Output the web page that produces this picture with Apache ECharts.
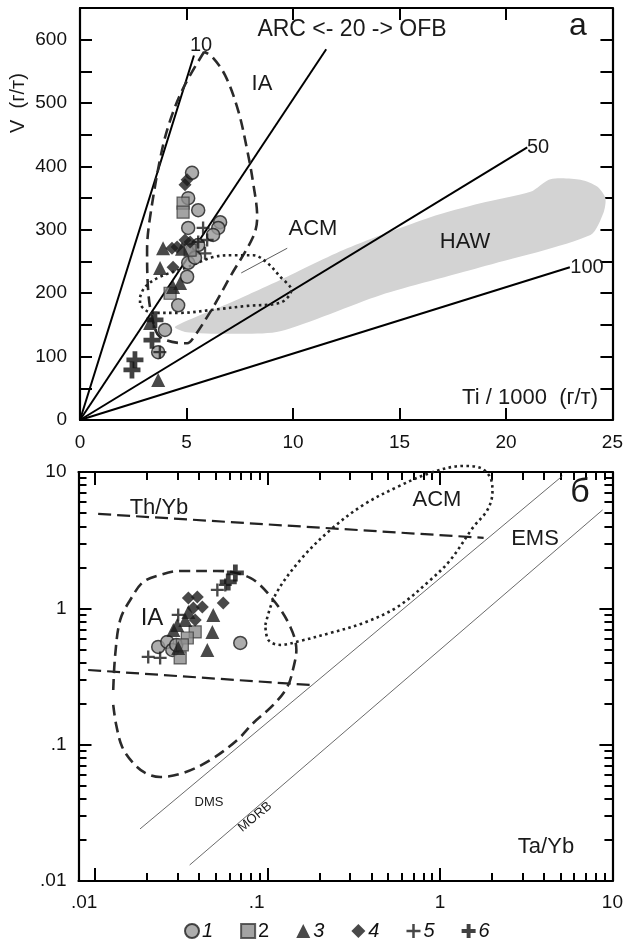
<!DOCTYPE html>
<html><head><meta charset="utf-8">
<script src="https://cdn.jsdelivr.net/npm/echarts@6/dist/echarts.min.js"></script>
<style>html,body{margin:0;padding:0;background:#fff}#c{width:626px;height:943px}</style>
</head><body><div id="c"></div>
<script>
// ===== Panel a : Ti/1000 vs V =====
const ratioLabels = ['10', '20', '50', '100'];
const ratioEndTi = [5.35, 11.56, 21.0, 23.0];
const ratioEndV = [575, 585, 430, 241];
const acmLeaderTi = [7.57, 9.73];
const acmLeaderV = [232, 271];
const hawTi = [4.46, 7.05, 9.40, 12.55, 16.45, 18.80, 21.15, 22.09, 23.50, 24.30, 24.67, 24.58, 23.97, 18.80, 14.10, 9.40, 7.05, 4.93];
const hawV  = [147, 185, 221, 271, 320, 342, 360, 380, 379, 368, 350, 327, 292, 241, 197, 140, 136, 139];
const iaTopTi = [5.83, 4.93, 4.32, 3.85, 3.29, 3.15, 3.20, 3.38, 3.76, 5.03, 5.31, 6.25, 7.05, 8.13, 8.32, 8.13, 7.85, 7.42, 6.81, 6.20];
const iaTopV  = [581, 529, 481, 426, 320, 268, 205, 163, 131, 121, 129, 178, 226, 289, 320, 374, 426, 489, 544, 573];
const acmTopTi = [2.82, 3.05, 3.76, 5.03, 6.25, 7.19, 8.13, 8.79, 9.40, 9.92, 9.40, 7.85, 6.25, 4.70, 3.43, 3.05, 2.82];
const acmTopV  = [194, 210, 226, 241, 257, 260, 260, 248, 226, 205, 185, 180, 174, 169, 169, 174, 185];
const a1Ti = [5.26, 5.08, 5.55, 6.58, 6.49, 6.25, 5.08, 5.26, 5.08, 5.03, 4.61, 3.99, 3.67, 5.40, 5.55];
const a1V  = [390, 350, 331, 312, 303, 292, 303, 268, 248, 226, 181, 142, 107, 256, 276];
const a2Ti = [4.84, 4.84, 4.23, 5.17];
const a2V  = [342, 328, 200, 268];
const a3Ti = [3.90, 4.79, 3.76, 3.29, 3.67, 4.70, 4.37];
const a3V  = [271, 270, 240, 153, 63, 216, 210];
const a4Ti = [4.93, 5.03, 4.93, 4.32, 4.37, 4.56, 5.17];
const a4V  = [371, 379, 284, 271, 241, 273, 281];
const a5Ti = [5.78, 5.87, 5.55, 5.97, 3.75];
const a5V  = [303, 263, 281, 284, 107];
const a6Ti = [3.52, 3.38, 2.58, 2.44];
const a6V  = [158, 126, 95, 79];

// ===== Panel б : Ta/Yb vs Th/Yb (log-log) =====
const logMajors = [0.01, 0.1, 1, 10];
const logMajorText = ['.01', '.1', '1', '10'];
const logMinors = [0.02, 0.03, 0.04, 0.05, 0.06, 0.07, 0.08, 0.09, 0.2, 0.3, 0.4, 0.5, 0.6, 0.7, 0.8, 0.9, 2, 3, 4, 5, 6, 7, 8, 9];
const dmsTa = [0.0182, 5.13],  dmsTh = [0.0241, 9.36];
const morbTa = [0.0353, 8.77], morbTh = [0.0131, 5.27];
const thybUpTa = [0.0104, 1.79], thybUpTh = [4.93, 3.29];
const thybLoTa = [0.0091, 0.177], thybLoTh = [0.353, 0.274];
const iaBotTa = [0.01272, 0.01306, 0.01396, 0.01596, 0.0190, 0.02384, 0.03113, 0.0511, 0.0793, 0.1079, 0.1355, 0.1468, 0.1410, 0.1301, 0.1079, 0.0826, 0.0667, 0.0465, 0.0324, 0.02384, 0.0195, 0.0166, 0.01434, 0.01324, 0.01272];
const iaBotTh = [0.252, 0.455, 0.822, 1.152, 1.562, 1.758, 1.881, 1.881, 1.671, 1.152, 0.730, 0.495, 0.365, 0.265, 0.1956, 0.1443, 0.1083, 0.0772, 0.0620, 0.0579, 0.0620, 0.0734, 0.0962, 0.1395, 0.1956];
const acmBotTa = [0.0970, 0.1109, 0.1548, 0.2312, 0.3592, 0.566, 0.880, 1.367, 1.716, 1.961, 2.014, 1.884, 1.563, 1.149, 0.880, 0.566, 0.3592, 0.2312, 0.1548, 0.1185, 0.1010];
const acmBotTh = [0.755, 1.254, 2.265, 3.760, 5.737, 7.775, 9.85, 11.08, 10.72, 9.05, 7.14, 5.27, 3.956, 2.265, 1.616, 1.024, 0.781, 0.660, 0.577, 0.539, 0.586];
const b1Ta = [0.0232, 0.0262, 0.0280, 0.0295, 0.0694];
const b1Th = [0.521, 0.567, 0.495, 0.539, 0.557];
const b2Ta = [0.0380, 0.0342, 0.0311, 0.0320];
const b2Th = [0.671, 0.606, 0.433, 0.539];
const b3Ta = [0.0347, 0.0484, 0.0478, 0.0447, 0.0299, 0.0303, 0.0284, 0.0333];
const b3Th = [0.941, 0.895, 0.671, 0.495, 0.755, 0.512, 0.694, 0.822];
const b4Ta = [0.0347, 0.0391, 0.0418, 0.0371, 0.0553, 0.0380];
const b4Th = [1.192, 1.212, 1.024, 1.007, 1.095, 0.822];
const b5Ta = [0.0203, 0.0238, 0.0303, 0.0511, 0.0568];
const b5Th = [0.440, 0.433, 0.895, 1.365, 1.485];
const b6Ta = [0.0650, 0.0591];
const b6Th = [1.818, 1.562];

const legendNames = ['1', '2', '3', '4', '5', '6'];

// ===== helpers =====
const F = '"Liberation Sans", Arial, Helvetica, sans-serif';
const INK = '#111';
const pairs = (a, b) => a.map((v, i) => [v, b[i]]);
const closed = (a, b) => { const p = pairs(a, b); p.push(p[0]); return p; };
const PLUS_THIN = 'path://M4.1,0H5.9V4.1H10V5.9H5.9V10H4.1V5.9H0V4.1H4.1Z';
const PLUS_THICK = 'path://M3.6,0H6.4V3.6H10V6.4H6.4V10H3.6V6.4H0V3.6H3.6Z';

const markStyles = [
  { symbol: 'circle', size: 13, itemStyle: { color: '#999', borderColor: '#1e1e1e', borderWidth: 1.5 } },
  { symbol: 'rect', size: 12, itemStyle: { color: '#8c8c8c', borderColor: '#3a3a3a', borderWidth: 1.2 } },
  { symbol: 'triangle', size: 14, itemStyle: { color: '#1c1c1c' } },
  { symbol: 'diamond', size: 13, itemStyle: { color: '#1c1c1c' } },
  { symbol: PLUS_THIN, size: 13, itemStyle: { color: '#1a1a1a' } },
  { symbol: PLUS_THICK, size: 17, itemStyle: { color: '#111' } }
];

function lineS(g, data, lineStyle, extra) {
  return Object.assign({
    type: 'line', xAxisIndex: g === 0 ? 0 : 2, yAxisIndex: g === 0 ? 0 : 2,
    data, symbol: 'none', silent: true, lineStyle, z: 3, animation: false
  }, extra || {});
}
function scat(g, k, data) {
  const m = markStyles[k];
  return {
    type: 'scatter', name: legendNames[k], xAxisIndex: g === 0 ? 0 : 2, yAxisIndex: g === 0 ? 0 : 2,
    data, symbol: m.symbol, symbolSize: m.size, itemStyle: m.itemStyle, z: 5, animation: false, silent: true
  };
}

const AXL = { show: true, onZero: false, lineStyle: { color: '#000', width: 2.2 } };
const TK = { color: '#000', width: 2 };

function linAxis(g, pos, min, max, interval, withLabels, fmt) {
  return {
    gridIndex: g, type: 'value', position: pos, min, max, interval,
    axisLine: AXL,
    axisTick: { show: true, inside: true, length: 12, lineStyle: TK },
    axisLabel: { show: withLabels, fontSize: 19, color: INK, fontFamily: F, margin: 13, formatter: fmt },
    splitLine: { show: false }
  };
}
function logAxis(g, pos, min, max, major, withLabels, isX) {
  const base = {
    gridIndex: g, type: 'log', logBase: 10, position: pos, min, max,
    splitLine: { show: false }, minorTick: { show: false }
  };
  if (major) {
    return Object.assign(base, {
      axisLine: AXL,
      axisTick: { show: true, inside: true, length: 13, lineStyle: TK, customValues: logMajors },
      axisLabel: {
        show: withLabels, customValues: logMajors, fontSize: 19, color: INK, fontFamily: F, margin: 12,
        formatter: (v) => {
          const i = logMajors.findIndex(m => Math.abs(Math.log10(v / m)) < 0.01);
          if (i < 0) return '';
          const t = logMajorText[i];
          return (isX && v < 0.5) ? '{t|' + t + '}{s|}' : t;
        },
        rich: { t: { fontSize: 19, color: INK, fontFamily: F }, s: { width: 22 } }
      }
    });
  }
  return Object.assign(base, {
    axisLine: { show: false },
    axisTick: { show: true, inside: true, length: 8, lineStyle: TK, customValues: logMinors },
    axisLabel: { show: false }
  });
}

function txt(x, y, s, size, extra) {
  return Object.assign({
    type: 'text', x, y, silent: true, z: 10,
    style: { text: s, fontSize: size, fontFamily: F, fill: '#1a1a1a', align: 'center', verticalAlign: 'middle' }
  }, extra || {});
}

const yLab = v => (v % 100 === 0 && v <= 600) ? String(v) : '';

const series = [];
// panel a
series.push({
  type: 'custom', xAxisIndex: 0, yAxisIndex: 0, data: [0], silent: true, z: 1, animation: false, clip: true,
  renderItem: (p, api) => ({
    type: 'polygon',
    shape: { points: hawTi.map((t, i) => api.coord([t, hawV[i]])), smooth: 0.25 },
    style: { fill: '#d3d3d3' }
  })
});
ratioEndTi.forEach((t, i) => series.push(lineS(0, [[0, 0], [t, ratioEndV[i]]], { color: '#000', width: 2 })));
series.push(lineS(0, pairs(acmLeaderTi, acmLeaderV), { color: '#333', width: 0.8 }));
series.push(lineS(0, closed(iaTopTi, iaTopV), { color: '#2a2a2a', width: 2.6, type: [11, 6] }, { smooth: 0.35 }));
series.push(lineS(0, closed(acmTopTi, acmTopV), { color: '#222', width: 2.6, type: [2.6, 3.4] }, { smooth: 0.35 }));
[[a1Ti, a1V], [a2Ti, a2V], [a3Ti, a3V], [a4Ti, a4V], [a5Ti, a5V], [a6Ti, a6V]].forEach((d, k) => series.push(scat(0, k, pairs(d[0], d[1]))));
// panel б
series.push(lineS(1, pairs(dmsTa, dmsTh), { color: '#444', width: 0.8 }));
series.push(lineS(1, pairs(morbTa, morbTh), { color: '#444', width: 0.8 }));
series.push(lineS(1, pairs(thybUpTa, thybUpTh), { color: '#222', width: 2.2, type: [13, 6] }));
series.push(lineS(1, pairs(thybLoTa, thybLoTh), { color: '#222', width: 2.2, type: [13, 6] }));
series.push(lineS(1, pairs(iaBotTa, iaBotTh), { color: '#2a2a2a', width: 2.6, type: [11, 6] }, { smooth: 0.35 }));
series.push(lineS(1, closed(acmBotTa, acmBotTh), { color: '#222', width: 2.6, type: [2.6, 3.4] }, { smooth: 0.35, clip: false }));
[[b1Ta, b1Th], [b2Ta, b2Th], [b3Ta, b3Th], [b4Ta, b4Th], [b5Ta, b5Th], [b6Ta, b6Th]].forEach((d, k) => series.push(scat(1, k, pairs(d[0], d[1]))));

const option = {
  animation: false,
  backgroundColor: '#fff',
  grid: [
    { left: 80, right: 13.5, top: 8, height: 412 },
    { left: 78.5, right: 13.5, top: 472, height: 409 }
  ],
  xAxis: [
    linAxis(0, 'bottom', 0, 25, 5, true),
    linAxis(0, 'top', 0, 25, 5, false),
    logAxis(1, 'bottom', 0.008, 10, true, true, true),
    logAxis(1, 'bottom', 0.008, 10, false, false, true),
    logAxis(1, 'top', 0.008, 10, true, false, true),
    logAxis(1, 'top', 0.008, 10, false, false, true)
  ],
  yAxis: [
    linAxis(0, 'left', 0, 650, 50, true, yLab),
    linAxis(0, 'right', 0, 650, 50, false),
    logAxis(1, 'left', 0.01, 10, true, true, false),
    logAxis(1, 'left', 0.01, 10, false, false, false),
    logAxis(1, 'right', 0.01, 10, true, false, false),
    logAxis(1, 'right', 0.01, 10, false, false, false)
  ],
  legend: {
    left: 179, top: 916, itemWidth: 14, itemHeight: 14, itemGap: 27, selectedMode: false,
    data: legendNames.map((n, k) => ({ name: n, textStyle: { fontStyle: k === 1 ? 'normal' : 'italic' } })),
    textStyle: { fontSize: 20, fontStyle: 'italic', color: INK, fontFamily: F, padding: [0, 0, 0, -2] }
  },
  graphic: [
    txt(18, 103, 'V  (г/т)', 20, { rotation: Math.PI / 2 }),
    txt(201, 45, ratioLabels[0], 20),
    txt(352, 30, 'ARC <- ' + ratioLabels[1] + ' -> OFB', 23),
    txt(578, 26, 'а', 32),
    txt(262, 84, 'IA', 22),
    txt(313, 229, 'ACM', 22),
    txt(465, 242, 'HAW', 22),
    txt(538, 147, ratioLabels[2], 20),
    txt(587, 267, ratioLabels[3], 20),
    txt(598, 398, 'Ti / 1000  (г/т)', 22, { style: { text: 'Ti / 1000  (г/т)', fontSize: 22, fontFamily: F, fill: '#1a1a1a', align: 'right', verticalAlign: 'middle' } }),
    txt(159, 508, 'Th/Yb', 22),
    txt(437, 500, 'ACM', 22),
    txt(535, 539, 'EMS', 22),
    txt(580, 493, 'б', 34),
    txt(152, 618, 'IA', 24),
    txt(209, 802, 'DMS', 13),
    txt(255, 817, 'MORB', 13, { rotation: 0.69 }),
    txt(546, 847, 'Ta/Yb', 22)
  ],
  series
};
const chart = echarts.init(document.getElementById('c'), null, { renderer: 'canvas' });
chart.setOption(option);
</script></body></html>
